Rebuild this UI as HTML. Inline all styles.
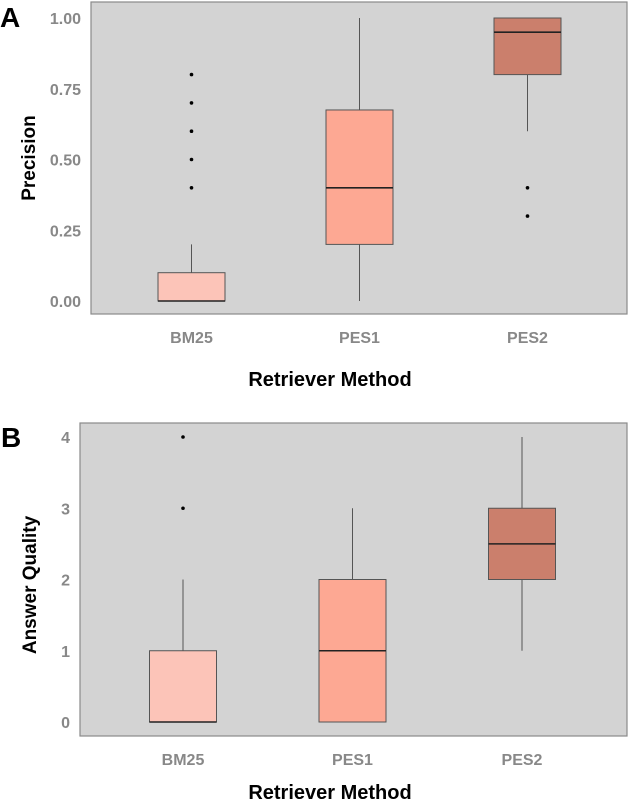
<!DOCTYPE html>
<html><head><meta charset="utf-8"><style>
body{margin:0;background:#fff;}
svg text{font-family:"Liberation Sans",sans-serif;font-weight:bold;}
</style></head><body>
<svg width="629" height="800" viewBox="0 0 629 800">
<g id="gA"></g>
<g id="gB"></g>
</svg>
<script>
const categories = ["BM25","PES1","PES2"];
const colors = ["#fcc4b8","#fda893","#cb7f6c"];
// Panel A precision stats: [whiskerLow, q1, median, q3, whiskerHigh]
const precisionStats = [[0,0,0,0.1,0.2],[0,0.2,0.4,0.675,1.0],[0.6,0.8,0.95,1.0,1.0]];
const precisionOutliers = [[0.4,0.5,0.6,0.7,0.8],[],[0.3,0.4]];
const precisionTicks = [0,0.25,0.5,0.75,1.0];
const precisionTickLabels = ["0.00","0.25","0.50","0.75","1.00"];
// Panel B answer quality stats
const qualityStats = [[0,0,0,1,2],[0,0,1,2,3],[1,2,2.5,3,4]];
const qualityOutliers = [[3,4],[],[]];
const qualityTicks = [0,1,2,3,4];
const qualityTickLabels = ["0","1","2","3","4"];
const NS="http://www.w3.org/2000/svg";
function mk(parent,tag,attrs){const e=document.createElementNS(NS,tag);for(const k in attrs)e.setAttribute(k,attrs[k]);parent.appendChild(e);return e;}
function panel(g,cfg){
  const yS=v=>cfg.y0+(cfg.y1-cfg.y0)*(v-cfg.vmin)/(cfg.vmax-cfg.vmin);
  const xS=i=>cfg.left+cfg.first+cfg.step*i;
  const bg=mk(g,"rect",{x:cfg.left,y:cfg.top,width:cfg.right-cfg.left,height:cfg.bottom-cfg.top,fill:"#d3d3d3",stroke:"#8a8a8a","stroke-width":1.2});
  
  
  cfg.ticks.forEach((t,i)=>{
    const tx=mk(g,"text",{x:cfg.left-10,y:yS(t)+6,"text-anchor":"end","font-size":16,fill:"#888"});
    tx.textContent=cfg.tickLabels[i];
    
    
  });
  categories.forEach((c,i)=>{
    const s=cfg.stats[i],cx=xS(i),w=67;
    const grp=mk(g,"g",{});
    
    
    mk(grp,"line",{x1:cx,x2:cx,y1:yS(s[0]),y2:yS(s[1]),stroke:"#555","stroke-width":1});
    mk(grp,"line",{x1:cx,x2:cx,y1:yS(s[3]),y2:yS(s[4]),stroke:"#555","stroke-width":1});
    mk(grp,"rect",{x:cx-w/2,y:yS(s[3]),width:w,height:Math.max(yS(s[1])-yS(s[3]),0),fill:colors[i],stroke:"#555","stroke-width":1});
    mk(grp,"line",{x1:cx-w/2,x2:cx+w/2,y1:yS(s[2]),y2:yS(s[2]),stroke:"#222","stroke-width":1.6});
    cfg.outliers[i].forEach(o=>{
      const d=mk(grp,"circle",{cx:cx,cy:yS(o),r:1.8,fill:"#000"});
      
      
    });
    const lb=mk(g,"text",{x:cx,y:cfg.bottom+29,"text-anchor":"middle","font-size":16,fill:"#888"});
    lb.textContent=c;
    
    
  });
  const xt=mk(g,"text",{x:cfg.xtitleX,y:cfg.xtitleY,"text-anchor":"middle","font-size":20,fill:"#000"});
  xt.textContent="Retriever Method";
  
  
  const yt=mk(g,"text",{x:0,y:0,"text-anchor":"middle","font-size":19,fill:"#000",transform:`translate(${cfg.ytitleX},${cfg.ytitleY}) rotate(-90)`});
  yt.textContent=cfg.ytitle;
  
  
  const pl=mk(g,"text",{x:cfg.letterX,y:cfg.letterY,"font-size":28,fill:"#000"});
  pl.textContent=cfg.letter;
  
  
}
panel(document.getElementById("gA"),{left:91,right:627,top:2,bottom:314,y0:301,y1:18,vmin:0,vmax:1,first:100.5,step:168,
  stats:precisionStats,outliers:precisionOutliers,ticks:precisionTicks,tickLabels:precisionTickLabels,
  xtitleX:330,xtitleY:386,ytitleX:35,ytitleY:158,ytitle:"Precision",letter:"A",letterX:0,letterY:27});
panel(document.getElementById("gB"),{left:80,right:627,top:423,bottom:736,y0:722,y1:437,vmin:0,vmax:4,first:103,step:169.5,
  stats:qualityStats,outliers:qualityOutliers,ticks:qualityTicks,tickLabels:qualityTickLabels,
  xtitleX:330,xtitleY:799,ytitleX:36,ytitleY:585,ytitle:"Answer Quality",letter:"B",letterX:1,letterY:447});
</script>
</body></html>
